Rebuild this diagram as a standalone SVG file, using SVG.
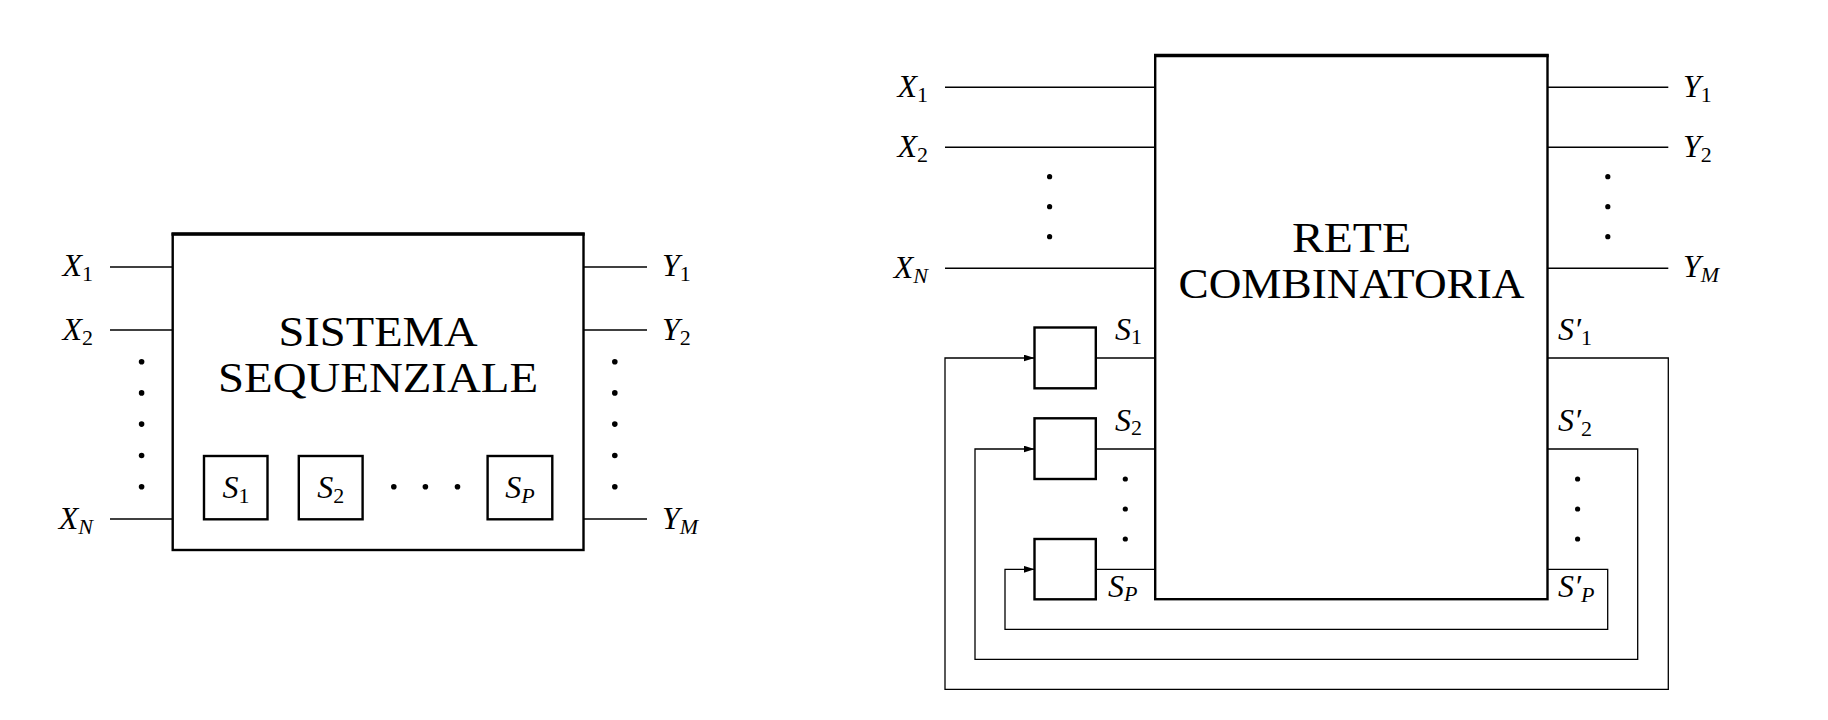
<svg xmlns="http://www.w3.org/2000/svg" width="1828" height="720" viewBox="0 0 1828 720">
<defs>
<style>
.box{fill:none;stroke:#000;stroke-width:2.4}
.top{fill:none;stroke:#000;stroke-width:3.4}
.wire{fill:none;stroke:#000;stroke-width:1.4}
.fb{fill:none;stroke:#000;stroke-width:1.3}
.dot{fill:#000}
text{font-family:'Liberation Serif','Times New Roman','DejaVu Serif',serif}
.title{font-size:41.5px;text-anchor:middle}
.m{font-style:italic;font-size:32px}
.sd{font-style:normal;font-size:22px}
.sl{font-style:italic;font-size:22px}
</style>
<marker id="arr" viewBox="0 0 11 7" refX="11" refY="3.5" markerWidth="11" markerHeight="7" markerUnits="userSpaceOnUse" orient="auto">
<path d="M0,0 L11,3.5 L0,7 z" fill="#000"/>
</marker>
</defs>
<rect width="1828" height="720" fill="#fff"/>

<!-- LEFT: SISTEMA SEQUENZIALE -->
<g id="sistema">
<rect class="box" x="172.7" y="234" width="410.8" height="316"/>
<line class="top" x1="171.5" y1="234" x2="584.7" y2="234"/>
<text class="title" x="378" y="346" textLength="199" lengthAdjust="spacingAndGlyphs">SISTEMA</text>
<text class="title" x="378" y="392" textLength="320" lengthAdjust="spacingAndGlyphs">SEQUENZIALE</text>
</g>
<g id="state-s1">
<rect class="box" x="204" y="456" width="63.5" height="63.3"/>
<text class="m" x="236" y="498" text-anchor="middle">S<tspan class="sd" dy="5">1</tspan></text>
</g>
<g id="state-s2">
<rect class="box" x="298.8" y="456" width="63.8" height="63.3"/>
<text class="m" x="330.7" y="498" text-anchor="middle">S<tspan class="sd" dy="5">2</tspan></text>
</g>
<g id="state-sp">
<rect class="box" x="487.6" y="456" width="64.7" height="63.3"/>
<text class="m" x="520" y="498" text-anchor="middle">S<tspan class="sl" dy="5">P</tspan></text>
</g>
<g id="left-dots">
<circle class="dot" cx="141.6" cy="361.7" r="2.8"/>
<circle class="dot" cx="141.6" cy="392.9" r="2.8"/>
<circle class="dot" cx="141.6" cy="424.1" r="2.8"/>
<circle class="dot" cx="141.6" cy="455.5" r="2.8"/>
<circle class="dot" cx="141.6" cy="486.7" r="2.8"/>
<circle class="dot" cx="614.8" cy="361.7" r="2.8"/>
<circle class="dot" cx="614.8" cy="392.9" r="2.8"/>
<circle class="dot" cx="614.8" cy="424.1" r="2.8"/>
<circle class="dot" cx="614.8" cy="455.5" r="2.8"/>
<circle class="dot" cx="614.8" cy="486.7" r="2.8"/>
<circle class="dot" cx="393.8" cy="486.7" r="2.8"/>
<circle class="dot" cx="425.4" cy="486.7" r="2.8"/>
<circle class="dot" cx="457.5" cy="486.7" r="2.8"/>
</g>
<g id="left-labels">
<text class="m" x="93" y="276" text-anchor="end">X<tspan class="sd" dy="5">1</tspan></text>
<text class="m" x="93" y="339.5" text-anchor="end">X<tspan class="sd" dy="5">2</tspan></text>
<text class="m" x="93" y="528.5" text-anchor="end">X<tspan class="sl" dy="5">N</tspan></text>
<text class="m" x="662" y="276">Y<tspan class="sd" dy="5">1</tspan></text>
<text class="m" x="662" y="339.5">Y<tspan class="sd" dy="5">2</tspan></text>
<text class="m" x="662" y="528.5">Y<tspan class="sl" dy="5">M</tspan></text>
</g>

<!-- RIGHT: RETE COMBINATORIA -->
<g id="rete">
<rect class="box" x="1155.2" y="55.5" width="392.3" height="543.7"/>
<line class="top" x1="1154" y1="55.5" x2="1548.7" y2="55.5"/>
<text class="title" x="1351.5" y="251.5" textLength="119" lengthAdjust="spacingAndGlyphs">RETE</text>
<text class="title" x="1351.5" y="297.5" textLength="346" lengthAdjust="spacingAndGlyphs">COMBINATORIA</text>
</g>
<g id="reg-1">
<rect class="box" x="1034.5" y="327.5" width="61.3" height="60.8"/>
</g>
<g id="reg-2">
<rect class="box" x="1034.5" y="418.3" width="61.3" height="60.7"/>
</g>
<g id="reg-p">
<rect class="box" x="1034.5" y="539" width="61.3" height="60.3"/>
</g>
<g id="right-dots">
<circle class="dot" cx="1049.6" cy="176.7" r="2.6"/>
<circle class="dot" cx="1049.6" cy="206.7" r="2.6"/>
<circle class="dot" cx="1049.6" cy="236.7" r="2.6"/>
<circle class="dot" cx="1607.8" cy="176.7" r="2.6"/>
<circle class="dot" cx="1607.8" cy="206.7" r="2.6"/>
<circle class="dot" cx="1607.8" cy="236.7" r="2.6"/>
<circle class="dot" cx="1125.3" cy="479" r="2.6"/>
<circle class="dot" cx="1125.3" cy="509" r="2.6"/>
<circle class="dot" cx="1125.3" cy="539" r="2.6"/>
<circle class="dot" cx="1577.6" cy="479" r="2.6"/>
<circle class="dot" cx="1577.6" cy="509" r="2.6"/>
<circle class="dot" cx="1577.6" cy="539" r="2.6"/>
</g>
<g id="right-labels">
<text class="m" x="928" y="97" text-anchor="end">X<tspan class="sd" dy="5">1</tspan></text>
<text class="m" x="928" y="157" text-anchor="end">X<tspan class="sd" dy="5">2</tspan></text>
<text class="m" x="928" y="278" text-anchor="end">X<tspan class="sl" dy="5">N</tspan></text>
<text class="m" x="1683" y="97">Y<tspan class="sd" dy="5">1</tspan></text>
<text class="m" x="1683" y="157">Y<tspan class="sd" dy="5">2</tspan></text>
<text class="m" x="1683" y="277">Y<tspan class="sl" dy="5">M</tspan></text>
<text class="m" x="1115" y="340">S<tspan class="sd" dy="4">1</tspan></text>
<text class="m" x="1115" y="431">S<tspan class="sd" dy="4">2</tspan></text>
<text class="m" x="1108" y="597">S<tspan class="sl" dy="4">P</tspan></text>
<text class="m" x="1558" y="340">S′<tspan class="sd" dy="5">1</tspan></text>
<text class="m" x="1558" y="431">S′<tspan class="sd" dy="5">2</tspan></text>
<text class="m" x="1558" y="597">S′<tspan class="sl" dy="5">P</tspan></text>
</g>

<g id="connectors">
<!-- left diagram -->
<line class="wire" x1="110" y1="267" x2="172.7" y2="267"/>
<line class="wire" x1="110" y1="330" x2="172.7" y2="330"/>
<line class="wire" x1="110" y1="519" x2="172.7" y2="519"/>
<line class="wire" x1="583.5" y1="267" x2="647" y2="267"/>
<line class="wire" x1="583.5" y1="330" x2="647" y2="330"/>
<line class="wire" x1="583.5" y1="519" x2="647" y2="519"/>
<!-- right diagram inputs/outputs -->
<line class="wire" x1="945" y1="87.3" x2="1155.2" y2="87.3"/>
<line class="wire" x1="945" y1="147.3" x2="1155.2" y2="147.3"/>
<line class="wire" x1="945" y1="268.3" x2="1155.2" y2="268.3"/>
<line class="wire" x1="1547.5" y1="87.3" x2="1668.3" y2="87.3"/>
<line class="wire" x1="1547.5" y1="147.3" x2="1668.3" y2="147.3"/>
<line class="wire" x1="1547.5" y1="268.3" x2="1668.3" y2="268.3"/>
<!-- register outputs -->
<line class="fb" x1="1095.8" y1="358" x2="1155.2" y2="358"/>
<line class="fb" x1="1095.8" y1="449" x2="1155.2" y2="449"/>
<line class="fb" x1="1095.8" y1="569.3" x2="1155.2" y2="569.3"/>
<!-- feedback loops -->
<path class="fb" d="M1547.5,358 H1668.3 V689.3 H945 V358 H1034.5" marker-end="url(#arr)"/>
<path class="fb" d="M1547.5,449 H1637.7 V659.3 H975 V449 H1034.5" marker-end="url(#arr)"/>
<path class="fb" d="M1547.5,569.3 H1607.7 V629.3 H1005 V569.3 H1034.5" marker-end="url(#arr)"/>
</g>
</svg>
